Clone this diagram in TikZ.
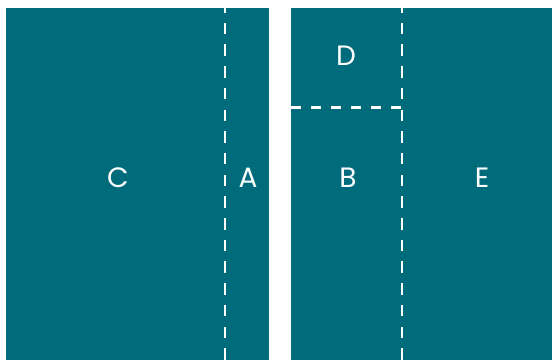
\documentclass[tikz,border=0pt]{standalone}
\usepackage{fontspec}
\setmainfont{Poppins}
\definecolor{cteal}{HTML}{006B7A}
\tikzset{
  every picture/.style={line width=2.2pt},
  panel/.style={fill=cteal, draw=none},
  cut/.style={draw=white, dash pattern=on 11.5pt off 10.2pt, dash phase=7pt},
  hcut/.style={draw=white, dash pattern=on 10pt off 10pt},
  label/.style={text=white, font=\fontsize{28}{28}\selectfont, inner sep=0pt},
}
\begin{document}
\begin{tikzpicture}[x=1pt, y=-1pt]
  \useasboundingbox (0,0) rectangle (552,360);
  % panels
  \fill[panel] (6,8) rectangle (269,360);
  \fill[panel] (291,8) rectangle (552,360);
  % cuts
  \draw[cut] (225,8) -- (225,360);
  \draw[cut] (402,8) -- (402,360);
  \draw[hcut] (291,107.5) -- (402,107.5);
  % labels
  \foreach \n/\x/\y in {C/118/177.5, A/248/177.5, D/346/56, B/348/177.5, E/482/177.5}
    \node[label] (\n) at (\x,\y) {\n};
\end{tikzpicture}
\end{document}
